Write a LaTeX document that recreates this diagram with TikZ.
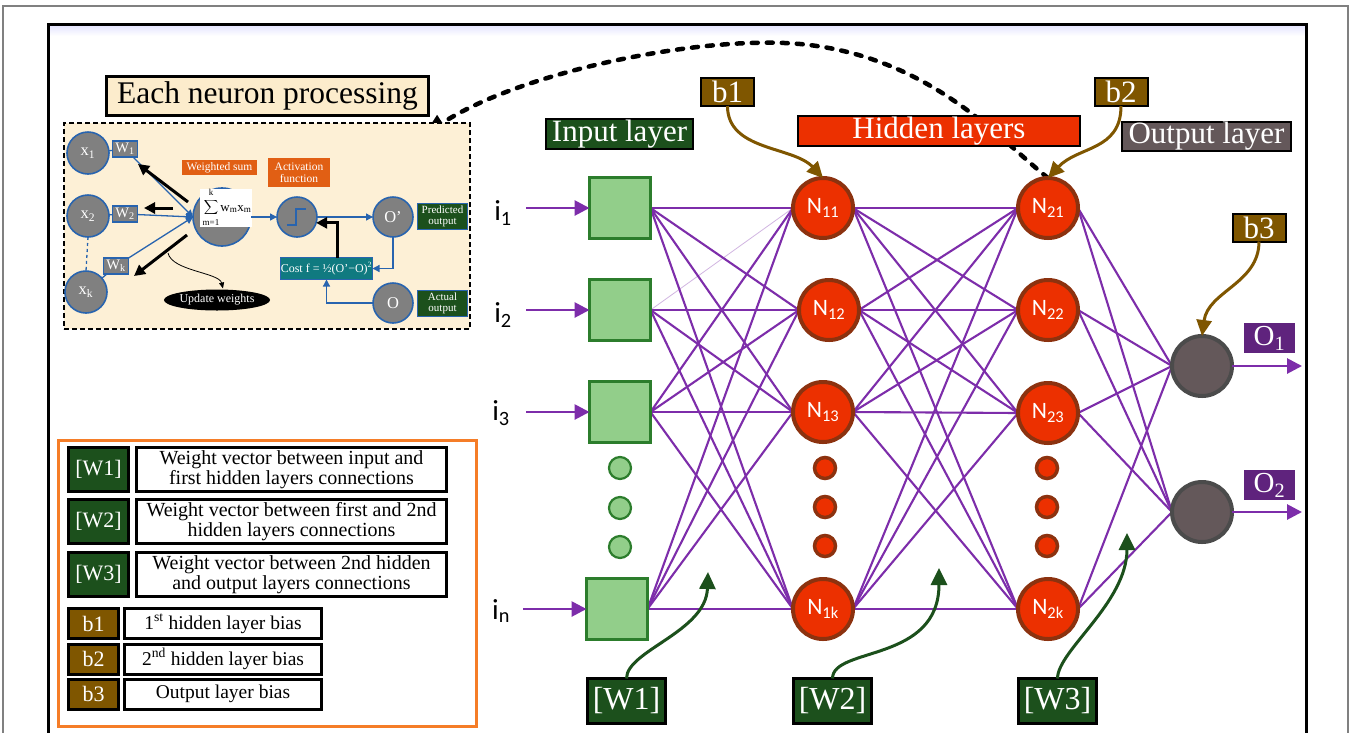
\documentclass[tikz,border=0pt]{standalone}
\usepackage{fontspec}
\setmainfont{Liberation Serif}
\newfontfamily\cfont{Carlito}
\usetikzlibrary{arrows.meta,calc,shapes.geometric}
\pgfdeclarelayer{frame}
\pgfdeclarelayer{wires}
\pgfsetlayers{frame,wires,main}

\definecolor{dkgreen}{RGB}{28,80,28}
\definecolor{bbrown}{RGB}{127,86,0}
\definecolor{hidred}{RGB}{236,48,0}
\definecolor{nborder}{RGB}{140,50,15}
\definecolor{outgray}{RGB}{100,88,90}
\definecolor{outborder}{RGB}{75,75,75}
\definecolor{wirecol}{RGB}{125,45,170}
\definecolor{opurple}{RGB}{95,35,125}
\definecolor{infill}{RGB}{146,206,138}
\definecolor{inborder}{RGB}{44,125,44}
\definecolor{cream}{RGB}{252,236,204}
\definecolor{creamlight}{RGB}{253,240,214}
\definecolor{cgray}{RGB}{128,128,128}
\definecolor{cblue}{RGB}{40,100,175}
\definecolor{wsum}{RGB}{225,95,20}
\definecolor{tealbox}{RGB}{16,122,128}
\definecolor{legorange}{RGB}{245,125,40}

\tikzset{
  every node/.style={inner sep=0pt, outer sep=0pt},
  tagbox/.style={draw=black, line width=2pt, text=white, font=\fontsize{31}{31}\selectfont},
  biasbox/.style={tagbox, fill=bbrown, minimum width=53pt, minimum height=28pt},
  wtag/.style={fill=dkgreen, draw=black, line width=3pt, text=white, minimum width=78pt, minimum height=45pt, font=\fontsize{32}{32}\selectfont},
  insq/.style={fill=infill, draw=inborder, line width=2.5pt, minimum size=61pt},
  idot/.style={circle, fill=infill, draw=inborder, line width=2.2pt, minimum size=22pt},
  neuron/.style={circle, fill=hidred, draw=nborder, line width=4pt, minimum size=60pt, text=white, font=\cfont\fontsize{23.5}{23.5}\selectfont},
  hdot/.style={circle, fill=hidred, draw=nborder, line width=3.5pt, minimum size=21pt},
  outneuron/.style={circle, fill=outgray, draw=outborder, line width=4pt, minimum size=60pt},
  olab/.style={fill=opurple, text=white, minimum width=51pt, minimum height=30pt, font=\fontsize{29}{29}\selectfont},
  wire/.style={draw=wirecol, line width=2.1pt},
  feed/.style={draw=wirecol, line width=2.8pt, -{Triangle[length=15pt,width=15pt]}},
  biascurve/.style={draw=bbrown, line width=3pt, -{Triangle[length=16pt,width=15pt]}},
  wcurve/.style={draw=dkgreen, line width=3pt, -{Triangle[length=17pt,width=16pt]}},
  ilab/.style={font=\cfont\fontsize{29}{29}\selectfont},
  icirc/.style={circle, fill=cgray, draw=cblue, line width=1.6pt, minimum size=42pt, text=white, font=\fontsize{16.5}{16.5}\selectfont},
  wsmall/.style={fill=cgray, draw=cblue, line width=1.5pt, text=white, minimum width=25pt, minimum height=16pt, font=\fontsize{14.5}{14.5}\selectfont},
  iarrow/.style={draw=cblue, line width=1.3pt, -{Triangle[length=7pt,width=7pt]}},
  bkarrow/.style={draw=black, line width=3pt, -{Triangle[length=11pt,width=11pt]}},
  smallbox/.style={text=white, align=center, font=\fontsize{11.5}{12.5}\selectfont},
  sumtxt/.style={font=\fontsize{13}{13}\selectfont},
  lkey/.style={fill=dkgreen, draw=black, line width=3pt, text=white, minimum width=60pt, minimum height=44pt, font=\fontsize{22}{22}\selectfont},
  ltext/.style={fill=white, draw=black, line width=3pt, minimum width=310pt, minimum height=44pt, align=center, font=\fontsize{20}{20.5}\selectfont},
  lbias/.style={fill=bbrown, draw=black, line width=3pt, text=white, minimum width=50pt, minimum height=30pt, font=\fontsize{22}{22}\selectfont},
  lbtext/.style={fill=white, draw=black, line width=3pt, minimum width=197pt, minimum height=30pt, font=\fontsize{19.5}{20}\selectfont},
}

\begin{document}
\begin{tikzpicture}[x=1pt,y=-1pt]
\useasboundingbox (0,0) rectangle (1351,732);

% frames
\begin{pgfonlayer}{frame}
  \fill[white] (0,0) rectangle (1351,732);
  \draw[gray, line width=1.2pt] (3,6) rectangle (1348,760);
  \shade[top color=blue!10, bottom color=white] (49.5,25.5) rectangle (1304.5,36);
  \draw[black, line width=3pt] (48,24) rectangle (1306,760);
  \draw[legorange, line width=3pt, fill=white] (58,440) rectangle (476,726);
\end{pgfonlayer}

% ---------- single neuron processing panel ----------
\node[draw=black, line width=3pt, fill=cream, minimum width=322pt, minimum height=39pt,
      font=\fontsize{31.5}{31.5}\selectfont] (title) at (267.5,96) {Each neuron processing};
\node[draw=black, dash pattern=on 5pt off 3pt, line width=2pt, fill=creamlight,
      minimum width=406pt, minimum height=206pt] (inset) at (267,226) {};

\node[icirc] (x1) at (88,153) {x\textsubscript{1}};
\node[icirc] (x2) at (88,216) {x\textsubscript{2}};
\node[icirc] (xk) at (86,292) {x\textsubscript{k}};
\node[wsmall] (w1) at (125,149) {W\textsubscript{1}};
\node[wsmall] (w2) at (125,214) {W\textsubscript{2}};
\node[wsmall] (wk) at (116,266) {W\textsubscript{k}};

% summing node with its formula
\node[circle, fill=cgray, draw=cblue, line width=1.6pt, minimum size=58pt] (sum) at (222,217) {};
\node[fill=white, minimum width=52pt, minimum height=38pt] (sumbox) at (225.5,208) {};
\node[sumtxt] (sigma) at (211,207) {$\displaystyle\sum$};
\node[font=\fontsize{9}{9}\selectfont] (sigtop) at (211,192) {k};
\node[font=\fontsize{9}{9}\selectfont] (sigbot) at (211,222.5) {m=1};
\node[sumtxt] (sumterm) at (236,209) {w\textsubscript{m}x\textsubscript{m}};

\node[fill=wsum, smallbox, minimum width=75pt, minimum height=15pt] (wsumlab) at (219.5,167.5) {Weighted sum};
\node[fill=wsum, smallbox, minimum width=62pt, minimum height=29pt] (actlab) at (299,172.5) {Activation\\function};

\node[icirc, minimum size=40pt] (step) at (297,217) {};
\node[icirc, minimum size=40pt] (op) at (393,217) {O'};
\node[icirc, minimum size=40pt] (oa) at (393,303) {O};
\node[fill=dkgreen, draw=cblue, line width=1pt, smallbox, font=\fontsize{11}{11}\selectfont,
      minimum width=50pt, minimum height=26pt] (pred) at (442.5,216.5) {Predicted\\output};
\node[fill=dkgreen, draw=cblue, line width=1pt, smallbox, font=\fontsize{11}{11}\selectfont,
      minimum width=50pt, minimum height=26pt] (act) at (442.5,303.5) {Actual\\output};
\node[fill=tealbox, draw=cblue, line width=1.2pt, smallbox, font=\fontsize{12}{12}\selectfont,
      minimum width=92pt, minimum height=22pt] (cost) at (326.5,268.5) {Cost f = ½(O'−O)\textsuperscript{2}};
\node[ellipse, fill=black, text=white, minimum width=90pt, minimum height=21pt,
      font=\fontsize{12}{12}\selectfont] (upd) at (217,300) {Update weights};

% step function symbol
\draw[cblue, line width=1.5pt] ($(step)+(-10,8)$) -- ++(9,0) -- ++(0,-16) -- ++(10,0);

% inputs into the summing node
\draw[iarrow] (x1) -- (w1) -- (sum.west);
\draw[iarrow] (x2) -- (w2) -- (sum.west);
\draw[iarrow] (xk) -- (wk) -- (sum.west);
\draw[cblue, line width=1.3pt, dash pattern=on 3pt off 3pt] (x2.south) -- (xk.north);
\draw[iarrow] (sum.east) -- (step.west);
\draw[iarrow] (step.east) -- (op.west);
\draw[iarrow] (op.south) |- (cost.east);
\draw[iarrow] (oa.west) -| (cost.south);
\draw[bkarrow] ($(cost.north)+(11,0)$) |- (step.-17);

% weight update arrows
\coordinate (bpa1) at (188,202); \coordinate (bpb1) at (138,164);
\coordinate (bpa2) at (173,208); \coordinate (bpb2) at (144,208);
\coordinate (bpa3) at (187,235); \coordinate (bpb3) at (134,276);
\draw[bkarrow] (bpa1) -- (bpb1);
\draw[bkarrow] (bpa2) -- (bpb2);
\draw[bkarrow] (bpa3) -- (bpb3);
\coordinate (updsrc) at (168,253);
\draw[black, line width=0.8pt, -{Triangle[length=6pt,width=5pt]}]
  (updsrc) .. controls +(4,18) and +(-4,-16) .. ($(upd.north)+(6,-1)$);

% ---------- main network ----------
\node[tagbox, fill=dkgreen, minimum width=147pt, minimum height=30pt] (inlayer) at (619.5,134) {Input layer};
\node[tagbox, fill=hidred, minimum width=282pt, minimum height=30pt] (hidlayer) at (939,131) {Hidden layers};
\node[tagbox, fill=outgray, minimum width=169pt, minimum height=29pt] (outlayer) at (1206.5,136.5) {Output layer};
\node[biasbox] (b1) at (727.5,92) {b1};
\node[biasbox] (b2) at (1121,92) {b2};
\node[biasbox] (b3) at (1259,227.5) {b3};

% input layer
\node[insq] (in1) at (620,208) {};
\node[insq] (in2) at (620,310) {};
\node[insq] (in3) at (620,412) {};
\node[insq] (inn) at (617,609) {};
\node[idot] (id1) at (620,468) {};
\node[idot] (id2) at (620,508) {};
\node[idot] (id3) at (620,547) {};

\node[ilab] (l1) at (503,213) {i\textsubscript{1}};
\node[ilab] (l2) at (503,315) {i\textsubscript{2}};
\node[ilab] (l3) at (501,413) {i\textsubscript{3}};
\node[ilab] (ln) at (501,611) {i\textsubscript{n}};
\coordinate (s1) at (526,208);
\coordinate (s2) at (526,310);
\coordinate (s3) at (526,412);
\coordinate (sn) at (523,609);
\draw[feed] (s1) -- (in1.west);
\draw[feed] (s2) -- (in2.west);
\draw[feed] (s3) -- (in3.west);
\draw[feed] (sn) -- (inn.west);

% hidden layers
\node[neuron] (h11) at (823,208) {N\textsubscript{11}};
\node[neuron] (h12) at (829,310) {N\textsubscript{12}};
\node[neuron] (h13) at (823,412) {N\textsubscript{13}};
\node[neuron] (h1k) at (823,609) {N\textsubscript{1k}};
\node[hdot] (hd11) at (825,468) {};
\node[hdot] (hd12) at (825,507) {};
\node[hdot] (hd13) at (825,546) {};
\node[neuron] (h21) at (1048,208) {N\textsubscript{21}};
\node[neuron] (h22) at (1048,310) {N\textsubscript{22}};
\node[neuron] (h23) at (1048,413) {N\textsubscript{23}};
\node[neuron] (h2k) at (1048,609) {N\textsubscript{2k}};
\node[hdot] (hd21) at (1047,468) {};
\node[hdot] (hd22) at (1047,507) {};
\node[hdot] (hd23) at (1047,546) {};

% output layer
\node[outneuron] (o1) at (1202,366) {};
\node[outneuron] (o2) at (1202,512) {};
\node[olab] (ol1) at (1269.5,338) {O\textsubscript{1}};
\node[olab] (ol2) at (1269.5,485) {O\textsubscript{2}};
\coordinate (oe1) at (1302,366);
\coordinate (oe2) at (1302,512);
\draw[feed] (o1.east) -- (oe1);
\draw[feed] (o2.east) -- (oe2);

% weight connections
\begin{pgfonlayer}{wires}
  \foreach \s in {in1,in3,inn}{\foreach \t in {h11,h12,h13,h1k}{\draw[wire] (\s.east) -- (\t.west);}}
  \foreach \t in {h12,h13,h1k}{\draw[wire] (in2.east) -- (\t.west);}
  \draw[wire, line width=0.8pt, opacity=0.35] (in2.east) -- (h11.west);
  \foreach \s in {h11,h12,h13,h1k}{\foreach \t in {h21,h22,h23,h2k}{\draw[wire] (\s.east) -- (\t.west);}}
  \foreach \s in {h21,h22,h23,h2k}{\foreach \t in {o1,o2}{\draw[wire] (\s.east) -- (\t.west);}}
  % link from a hidden neuron to its detailed view
  \coordinate (zoomtip) at (424,135);
  \draw[black, line width=4.5pt, line cap=round, dash pattern=on 6pt off 9pt, -{Triangle[length=22pt,width=18pt]}]
    (h21.north) .. controls (1000,140) and (930,56) .. (800,44)
    .. controls (700,35) and (520,72) .. (zoomtip);
\end{pgfonlayer}

% biases
\draw[biascurve] (b1.south) .. controls +(0,45) and +(-30,-32) .. (h11.north);
\draw[biascurve] (b2.south) .. controls +(0,45) and +(30,-32) .. (h21.north);
\draw[biascurve] (b3.south) .. controls +(0,42) and +(6,-45) .. (o1.north);

% weight vector labels
\node[wtag] (W1) at (626.5,701) {[W1]};
\node[wtag] (W2) at (832.5,701) {[W2]};
\node[wtag] (W3) at (1057.5,701) {[W3]};
\coordinate (t1) at (708,572);
\coordinate (t2) at (939,568);
\coordinate (t3) at (1127,533);
\draw[wcurve] (W1.north) .. controls +(0,-28) and +(-2,60) .. (t1);
\draw[wcurve] (W2.north) .. controls +(0,-32) and +(0,95) .. (t2);
\draw[wcurve] (W3.north) .. controls +(0,-28) and +(0,70) .. (t3);

% ---------- legend ----------
\node[lkey] (k1) at (98.5,469.5) {[W1]};
\node[ltext] (d1) at (291.5,469.5) {Weight vector between input and\\first hidden layers connections};
\node[lkey] (k2) at (98.5,521.5) {[W2]};
\node[ltext] (d2) at (291.5,521.5) {Weight vector between first and 2nd\\hidden layers connections};
\node[lkey] (k3) at (98.5,574.5) {[W3]};
\node[ltext] (d3) at (291.5,574.5) {Weight vector between 2nd hidden\\and output layers connections};
\node[lbias] (kb1) at (93.5,623.5) {b1};
\node[lbtext] (db1) at (223,623.5) {1\textsuperscript{st} hidden layer bias};
\node[lbias] (kb2) at (93.5,659) {b2};
\node[lbtext] (db2) at (223,659) {2\textsuperscript{nd} hidden layer bias};
\node[lbias] (kb3) at (93.5,694) {b3};
\node[lbtext] (db3) at (223,694) {Output layer bias};

\end{tikzpicture}
\end{document}
